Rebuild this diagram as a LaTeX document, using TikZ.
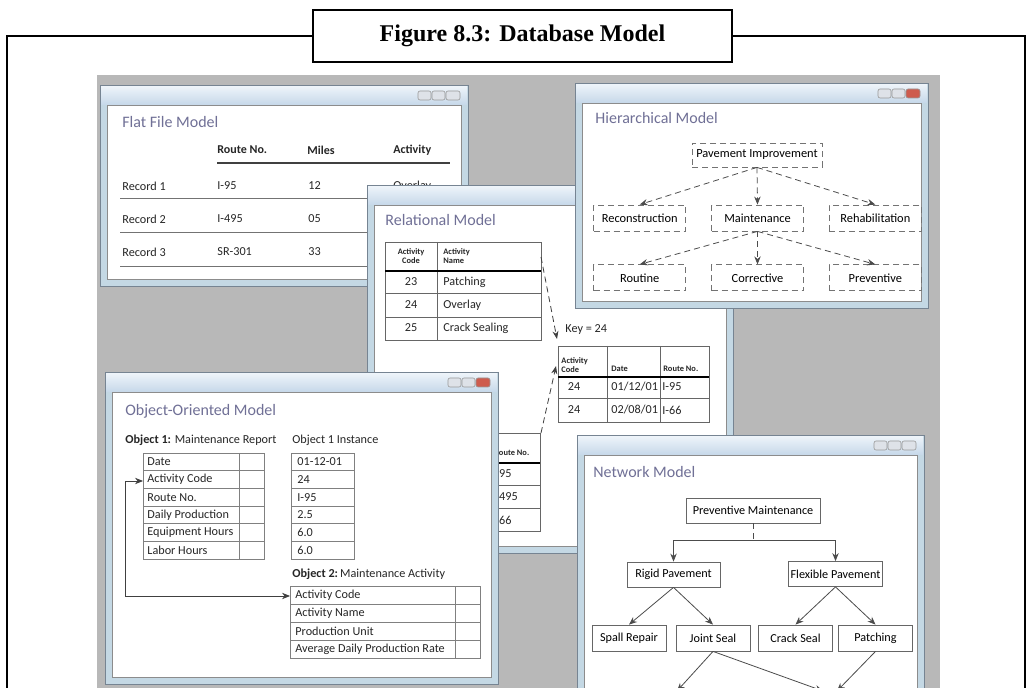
\documentclass[tikz,border=0pt]{standalone}
\usepackage{fontspec}
\setmainfont{Carlito}
\newfontfamily\capfont{Liberation Serif}
\usetikzlibrary{arrows.meta, positioning}

\definecolor{deskgray}{RGB}{184,184,184}
\definecolor{winframe}{RGB}{196,216,228}
\definecolor{winborder}{RGB}{118,132,146}
\definecolor{bartop}{RGB}{238,244,250}
\definecolor{barbot}{RGB}{198,216,233}
\definecolor{wintitle}{RGB}{112,112,150}
\definecolor{closered}{RGB}{206,92,78}
\definecolor{btnfill}{RGB}{222,226,232}

\tikzset{
  frame/.style={line width=1pt, draw=black},
  capbox/.style={draw, line width=1pt, fill=white, minimum width=209.5pt,
                 minimum height=26pt, font=\capfont\bfseries\fontsize{12}{14}\selectfont},
  winedge/.style={draw=black!45, line width=0.3pt},
  winborder/.style={draw=winborder, line width=0.4pt},
  winbtn/.style={draw=black!40, fill=btnfill, line width=0.3pt, rounded corners=1pt},
  wtitle/.style={anchor=west, inner sep=0pt, text=wintitle, font=\fontsize{8}{9}\selectfont},
  cell/.style={anchor=west, inner sep=0pt, text=black!85, font=\fontsize{6.1}{7}\selectfont},
  head/.style={cell, font=\bfseries\fontsize{6}{7}\selectfont},
  tinyhead/.style={anchor=west, inner sep=0pt, align=left, text=black!85,
                   font=\bfseries\fontsize{4.2}{4.6}\selectfont},
  rule/.style={draw=black!55, line width=0.4pt},
  darkrule/.style={draw=black!75, line width=0.6pt},
  relrule/.style={draw=black!60, line width=0.4pt},
  thickrule/.style={draw=black, line width=1.1pt},
  objrule/.style={draw=black!50, line width=0.35pt},
  hbox/.style={draw=black!55, densely dashed, line width=0.4pt, fill=white, inner sep=1pt,
               minimum width=46pt, minimum height=13pt, font=\fontsize{6.2}{7}\selectfont},
  nbox/.style={draw=black!60, line width=0.4pt, fill=white, inner sep=1pt,
               minimum width=46.5pt, minimum height=12.5pt, font=\fontsize{6.1}{7}\selectfont},
  nleaf/.style={nbox, minimum width=37pt, minimum height=13pt},
  harr/.style={-{Stealth[length=4pt, width=3.2pt]}, densely dashed, draw=black!70, line width=0.4pt},
  narr/.style={-{Stealth[length=4pt, width=3.2pt]}, draw=black!70, line width=0.4pt},
  nline/.style={densely dashed, draw=black!70, line width=0.4pt},
  relarr/.style={-{Stealth[length=4pt, width=3pt]}, densely dashed, draw=black!75, line width=0.4pt},
  linkarr/.style={{Stealth[length=4pt, width=3.2pt]}-{Stealth[length=4pt, width=3.2pt]},
                  draw=black!75, line width=0.4pt},
}

% one screenshot window: x1 y1 x2 y2 close-button colour
\newcommand{\appwin}[5]{%
  \fill[winframe] (#1,#2) rectangle (#3,#4);
  \shade[top color=bartop, bottom color=barbot] (#1+1,#2+1) rectangle (#3-1,#2+20);
  \fill[white] (#1+7,#2+20) rectangle (#3-7,#4-7);
  \draw[winedge] (#1+7,#2+20) rectangle (#3-7,#4-7);
  \draw[winborder] (#1,#2) rectangle (#3,#4);
  \foreach \k in {0,1}
    \draw[winbtn] (#3-50+\k*14,#2+6) rectangle ++(13,9);
  \draw[winbtn, fill=#5] (#3-22,#2+6) rectangle ++(14,9);
}

\begin{document}
\begin{tikzpicture}[x=0.5pt, y=-0.5pt]
\useasboundingbox (0,0) rectangle (1032,688);
\fill[white] (0,0) rectangle (1032,688);

\node[capbox] (cap) at (522.5,36) {Figure 8.3: Database Model};
\draw[frame] (cap.west) -| (7,700);
\draw[frame] (cap.east) -| (1025,700);

\begin{scope}
\clip (0,0) rectangle (1032,688);
\fill[deskgray] (97,75) rectangle (940,700);

% flat file window
\appwin{100}{85}{468}{286}{btnfill}
\node[wtitle] (fft) at (122,122) {Flat File Model};
\node[head] (ffh1) at (217,150) {Route No.};
\node[head] (ffh2) at (307,150) {Miles};
\node[head] (ffh3) at (393,150) {Activity};
\draw[darkrule] (217,163) -- (450,163);
\foreach \rec/\route/\mi [count=\i] in {Record 1/I-95/12, Record 2/I-495/05, Record 3/SR-301/33} {
  \node[cell] (ffr\i) at (122,153+33*\i) {\rec};
  \node[cell] (ffa\i) at (217,153+33*\i) {\route};
  \node[cell] (ffb\i) at (308,153+33*\i) {\mi};
  \draw[rule] (120,164+34*\i) -- (450,164+34*\i);
}
\node[cell] (ffc1) at (393,186) {Overlay};

% relational window
\appwin{367}{185}{733}{553}{btnfill}
\node[wtitle] (relt) at (385,220) {Relational Model};
\draw[relrule] (385,242) rectangle (541,340);
\draw[relrule] (437,242) -- (437,340);
\foreach \yy in {293,317} \draw[relrule] (385,\yy) -- (541,\yy);
\draw[thickrule] (385,271) -- (541,271);
\node[tinyhead, anchor=center, align=center] (ach) at (411,256) {Activity\\Code};
\node[tinyhead] (anh) at (443,256) {Activity\\Name};
\foreach \c/\n [count=\i] in {23/Patching, 24/Overlay, 25/Crack Sealing} {
  \node[cell, anchor=center] (acode\i) at (411,259+23*\i) {\c};
  \node[cell] (aname\i) at (443,259+23*\i) {\n};
}

\node[cell] (key) at (565,330) {Key = 24};
\draw[relrule] (558,346) rectangle (709,422);
\foreach \xx in {607,660} \draw[relrule] (\xx,346) -- (\xx,422);
\draw[relrule] (558,398) -- (709,398);
\draw[thickrule] (558,377) -- (709,377);
\node[tinyhead, anchor=south west] (kh1) at (561,373) {Activity\\Code};
\node[tinyhead, anchor=south west] (kh2) at (611,372) {Date};
\node[tinyhead, anchor=south west] (kh3) at (663,372) {Route No.};
\foreach \d/\r [count=\i] in {{01/12/01}/I-95, {02/08/01}/I-66} {
  \node[cell, anchor=center] (kc\i) at (574,364+23*\i) {24};
  \node[cell] (kd\i) at (611,364+23*\i) {\d};
  \node[cell] (kr\i) at (662,364+23*\i) {\r};
}

\draw[relrule] (470,433) -- (540,433) -- (540,531) -- (470,531);
\foreach \yy in {485,508} \draw[relrule] (470,\yy) -- (540,\yy);
\draw[thickrule] (470,463) -- (540,463);
\node[tinyhead] (rth) at (494,453) {Route No.};
\foreach \r [count=\i] in {I-95, I-495, I-66}
  \node[cell] (rtr\i) at (492,451+23*\i) {\r};

\coordinate (acttop) at (541,257);
\coordinate (keyin) at (557,339);
\coordinate (routetop) at (541,433);
\coordinate (keyin2) at (556,366);
\draw[relarr] (acttop) -- (keyin);
\draw[relarr] (routetop) -- (keyin2);

% hierarchical window
\appwin{575}{83}{928}{308}{closered}
\node[wtitle] (hiert) at (595,118) {Hierarchical Model};
\node[hbox, minimum width=65pt, minimum height=12pt] (pave) at (757,155) {Pavement Improvement};
\node[hbox] (maint) at (757.5,218) {Maintenance};
\node[hbox, left=12.5pt of maint] (recon) {Reconstruction};
\node[hbox, right=12.5pt of maint] (rehab) {Rehabilitation};
\node[hbox, below=16.5pt of maint] (corr) {Corrective};
\node[hbox, left=12.5pt of corr] (rout) {Routine};
\node[hbox, right=12.5pt of corr] (prev) {Preventive};
\foreach \b in {recon, maint, rehab} \draw[harr] (pave.south) -- (\b.north);
\foreach \b in {rout, corr, prev} \draw[harr] (maint.south) -- (\b.north);

% object-oriented window
\appwin{105}{372}{498}{684}{closered}
\node[wtitle] (oot) at (125,411) {Object-Oriented Model};
\node[cell] (ob1) at (125,440) {\textbf{Object 1:} Maintenance Report};
\node[cell] (ob1i) at (292,440) {Object 1 Instance};
\draw[objrule] (143,453) rectangle (264,559);
\draw[objrule] (239,453) -- (239,559);
\draw[objrule] (291,453) rectangle (354,559);
\foreach \k in {1,...,5} {
  \draw[objrule] (143,453+17.67*\k) -- (264,453+17.67*\k);
  \draw[objrule] (291,453+17.67*\k) -- (354,453+17.67*\k);
}
\foreach \lbl/\val [count=\i] in {Date/01-12-01, Activity Code/24, Route No./I-95,
    Daily Production/2.5, Equipment Hours/6.0, Labor Hours/6.0} {
  \node[cell] (oa\i) at (147,444.2+17.67*\i) {\lbl};
  \node[cell] (ov\i) at (297,444.2+17.67*\i) {\val};
}
\node[cell] (ob2) at (292,574) {\textbf{Object 2:}\,Maintenance Activity};
\draw[objrule] (290,586) rectangle (480,658);
\draw[objrule] (455,586) -- (455,658);
\foreach \k in {1,2,3} \draw[objrule] (290,586+18*\k) -- (480,586+18*\k);
\foreach \lbl [count=\i] in {Activity Code, Activity Name, Production Unit,
    Average Daily Production Rate}
  \node[cell] (ob\i) at (295,577+18*\i) {\lbl};
\coordinate (o1in) at (143,481);
\coordinate (o2in) at (290,596);
\draw[linkarr] (o1in) -- ++(-18,0) |- (o2in);

% network window
\appwin{577}{435}{924}{705}{btnfill}
\node[wtitle] (nett) at (593,472) {Network Model};
\node[nbox, minimum width=67pt] (pm) at (753,510.5) {Preventive Maintenance};
\node[nbox] (rigid) at (673.5,574.5) {Rigid Pavement};
\node[nbox] (flex) at (835.5,574) {Flexible Pavement};
\node[nleaf] (spall) at (629,638) {Spall Repair};
\node[nleaf] (joint) at (713,638) {Joint Seal};
\node[nleaf] (crack) at (795.5,638) {Crack Seal};
\node[nleaf] (patch) at (875.5,638) {Patching};
\draw[nline] (pm.south) -- ++(0,17) coordinate (fork);
\draw[narr] (fork) -| (rigid.north);
\draw[narr] (fork) -| (flex.north);
\foreach \b in {spall, joint} \draw[narr] (rigid.south) -- (\b.north);
\foreach \b in {crack, patch} \draw[narr] (flex.south) -- (\b.north);
\coordinate (offa) at (677,691);
\coordinate (offb) at (823,691);
\coordinate (offc) at (837,691);
\draw[narr] (joint.south) -- (offa);
\draw[narr] (joint.south) -- (offb);
\draw[narr] (patch.south) -- (offc);
\end{scope}

\end{tikzpicture}
\end{document}
